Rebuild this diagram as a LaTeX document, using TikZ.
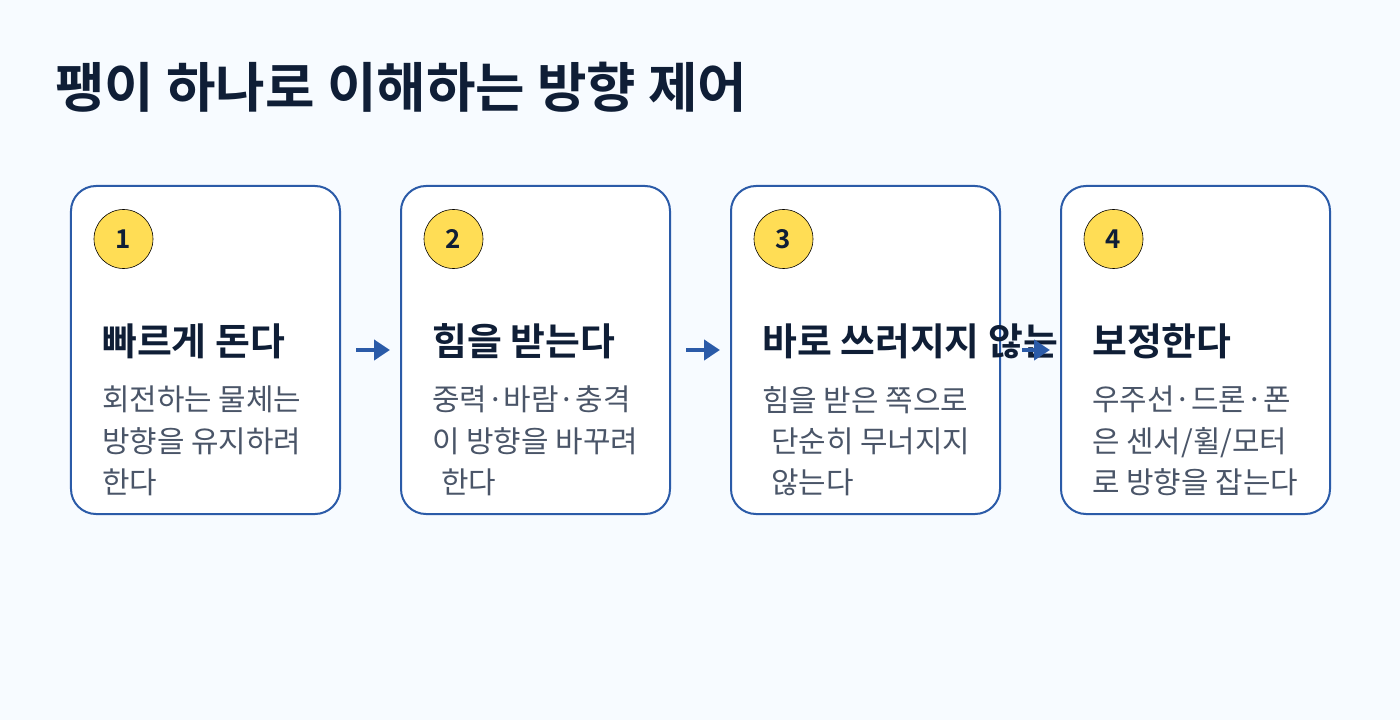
\documentclass[tikz,border=0pt]{standalone}
\usepackage{fontspec}
\setmainfont{Noto Sans CJK KR}[BoldFont={Noto Sans CJK KR Bold}]
\usetikzlibrary{positioning,arrows.meta,calc}
\definecolor{bgcol}{HTML}{F7FBFF}
\definecolor{navy}{HTML}{0F1E36}
\definecolor{edgecol}{HTML}{2B5BA8}
\definecolor{bodycol}{HTML}{4A5568}
\definecolor{badgecol}{HTML}{FFDD55}
\tikzset{
  stepbox/.style={draw=edgecol,line width=2bp,rounded corners=25bp,fill=white,
    minimum width=269bp,minimum height=328bp,inner sep=0pt},
  badge/.style={circle,draw=black,line width=0.6bp,fill=badgecol,minimum size=59bp,
    inner sep=0pt,font=\fontsize{26}{26}\selectfont\bfseries,text=navy},
  head/.style={anchor=west,font=\fontsize{38}{38}\selectfont\bfseries,text=navy,inner sep=0pt},
  body/.style={anchor=north west,align=left,font=\fontsize{30}{41.5}\selectfont,text=bodycol,inner sep=0pt},
  flow/.style={-{Triangle[length=16bp,width=20bp]},draw=edgecol,line width=4bp},
}
\newcommand{\indt}{\hspace*{0.3em}}
\begin{document}
\begin{tikzpicture}[x=1bp,y=-1bp]
\fill[bgcol] (0,0) rectangle (1400,720);
\useasboundingbox (0,0) rectangle (1400,720);
\node[anchor=base west,inner sep=0pt,text=navy,font=\fontsize{54}{54}\selectfont\bfseries]
  (title) at (55,108) {팽이 하나로 이해하는 방향 제어};
% steps
\node[stepbox] (b1) at (205.5,350) {};
\node[stepbox] (b2) at (535.5,350) {};
\node[stepbox] (b3) at (865.5,350) {};
\node[stepbox] (b4) at (1195.5,350) {};
\foreach \i in {1,...,4}{
  \node[badge] (n\i) at ($(b\i.north west)+(53.5,54)$) {\i};
}
\node[head] (h1) at ($(b1.west)+(32,-9)$) {빠르게 돈다};
\node[head] (h2) at ($(b2.west)+(32,-9)$) {힘을 받는다};
\node[head] (h3) at ($(b3.west)+(32,-9)$) {바로 쓰러지지 않는};
\node[head] (h4) at ($(b4.west)+(32,-9)$) {보정한다};
\node[body] (t1) at ($(b1.west)+(32,36)$) {회전하는 물체는\\방향을 유지하려\\한다};
\node[body] (t2) at ($(b2.west)+(32,36)$) {중력·바람·충격\\이 방향을 바꾸려\\\indt 한다};
\node[body] (t3) at ($(b3.west)+(32,36)$) {힘을 받은 쪽으로\\\indt 단순히 무너지지\\\indt 않는다};
\node[body] (t4) at ($(b4.west)+(32,36)$) {우주선·드론·폰\\은 센서/휠/모터\\로 방향을 잡는다};
% arrows
\draw[flow,shorten <=15bp,shorten >=10bp] (b1.east) -- (b2.west);
\draw[flow,shorten <=15bp,shorten >=10bp] (b2.east) -- (b3.west);
\draw[flow,shorten <=21bp,shorten >=10bp] (b3.east) -- (b4.west);
\end{tikzpicture}
\end{document}
